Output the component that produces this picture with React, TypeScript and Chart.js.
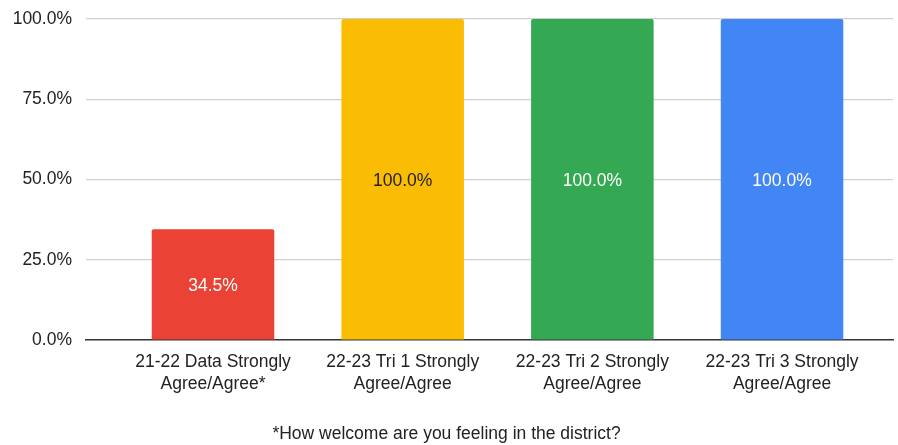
import React, { useEffect, useRef } from "react";
import { Chart, registerables } from "chart.js";

Chart.register(...registerables);

const categories: string[][] = [
  ["21-22 Data Strongly", "Agree/Agree*"],
  ["22-23 Tri 1 Strongly", "Agree/Agree"],
  ["22-23 Tri 2 Strongly", "Agree/Agree"],
  ["22-23 Tri 3 Strongly", "Agree/Agree"],
];
const values: number[] = [34.5, 100, 100, 100];
const barColors: string[] = ["#EA4335", "#FBBC04", "#34A853", "#4285F4"];
const labelColors: string[] = ["#ffffff", "#222222", "#ffffff", "#ffffff"];
const yTicks: number[] = [0, 25, 50, 75, 100];
const footnote = "*How welcome are you feeling in the district?";

const FONT = "'Liberation Sans', Arial, sans-serif";
const FS = 17.5;

const barLabelPlugin = {
  id: "barLabels",
  afterDatasetsDraw(chart: any) {
    const meta = chart.getDatasetMeta(0);
    const ctx = chart.ctx;
    ctx.save();
    ctx.font = `${FS}px ${FONT}`;
    ctx.textAlign = "center";
    ctx.textBaseline = "middle";
    meta.data.forEach((bar: any, i: number) => {
      const props = bar.getProps(["x", "y", "base"], true);
      ctx.fillStyle = labelColors[i];
      ctx.fillText(values[i].toFixed(1) + "%", props.x, (props.y + props.base) / 2 + 1.5);
    });
    ctx.restore();
  },
};

export default function App() {
  const ref = useRef<HTMLCanvasElement | null>(null);
  useEffect(() => {
    if (!ref.current) return;
    const chart = new Chart(ref.current, {
      type: "bar",
      data: {
        datasets: [
          {
            data: values.map((v, i) => ({ x: i, y: v })),
            backgroundColor: barColors,
            borderRadius: 2,
            borderSkipped: "bottom",
            categoryPercentage: 1,
            barPercentage: 0.646,
          },
        ],
      },
      options: {
        animation: false,
        responsive: true,
        maintainAspectRatio: false,
        layout: { padding: { top: 19, right: 5, left: 0, bottom: 0 } },
        plugins: {
          legend: { display: false },
          tooltip: { enabled: false },
          title: {
            display: true,
            text: footnote,
            position: "bottom",
            color: "#222",
            font: { family: FONT, size: FS, weight: "normal", lineHeight: 1.2 },
            padding: { top: 22, bottom: 0 },
          },
        },
        scales: {
          x: {
            type: "linear",
            min: -0.6696,
            max: 3.585,
            offset: false,
            grid: { display: false, offset: false },
            border: { display: true, color: "#333", width: 1.5 },
            afterBuildTicks: (scale: any) => {
              scale.ticks = categories.map((_, i) => ({ value: i }));
            },
            afterFit: (scale: any) => {
              scale.height = 62;
              scale.paddingLeft = 0;
              scale.paddingRight = 0;
            },
            ticks: {
              autoSkip: false,
              maxRotation: 0,
              minRotation: 0,
              padding: 3,
              color: "#222",
              font: { family: FONT, size: FS, lineHeight: 1.25 },
              callback: (v: any) => categories[v as number],
            },
          },
          y: {
            min: 0,
            max: 100,
            afterBuildTicks: (scale: any) => {
              scale.ticks = yTicks.map((v) => ({ value: v }));
            },
            afterFit: (scale: any) => {
              scale.width = 86;
              scale.paddingTop = 0;
              scale.paddingBottom = 0;
            },
            border: { display: false },
            grid: {
              color: (c: any) => (c.tick && c.tick.value === 0 ? "rgba(0,0,0,0)" : "#d0d0d0"),
              drawTicks: false,
              lineWidth: 1.2,
            },
            ticks: {
              padding: 14,
              color: "#222",
              font: { family: FONT, size: FS },
              callback: (v: any) => Number(v).toFixed(1) + "%",
            },
          },
        },
      },
      plugins: [barLabelPlugin],
    } as any);
    return () => chart.destroy();
  }, []);
  return (
    <div style={{ position: "fixed", left: 0, top: 0, width: 898, height: 445, background: "#fff" }}>
      <canvas ref={ref} />
    </div>
  );
}
